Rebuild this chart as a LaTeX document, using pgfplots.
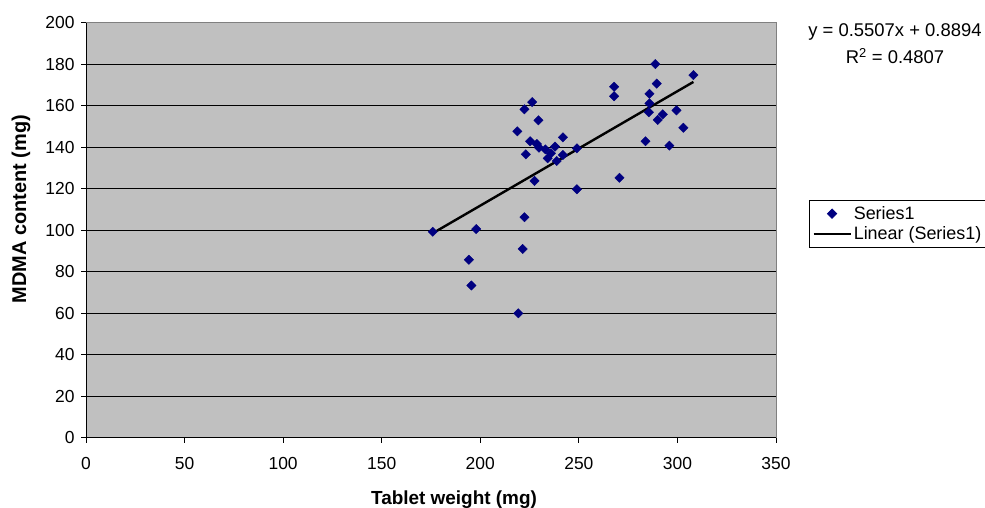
\documentclass[border=0pt]{standalone}
\usepackage{pgfplots}
\pgfplotsset{compat=1.18}
\usepackage{fontspec}
\setmainfont{Liberation Sans}
\definecolor{plotgray}{HTML}{C0C0C0}
\definecolor{navymark}{HTML}{000080}
\definecolor{bordergray}{HTML}{808080}
\pgfplotsset{
  mymarklegend/.style={legend image code/.code={\draw[mark repeat=2, mark phase=2, ##1] plot coordinates {(0bp,0bp) (18.5bp,0bp) (37bp,0bp)};}},
  mylinelegend/.style={legend image code/.code={\draw[##1] (0bp,0bp) -- (37bp,0bp);}},
}
\begin{document}
\begin{tikzpicture}[font=\fontsize{17}{20}\selectfont]
\useasboundingbox (0bp,0bp) rectangle (985bp,508bp);
\begin{axis}[
  at={(86bp,70.2bp)}, anchor=south west,
  scale only axis, width=690bp, height=415bp,
  xmin=0, xmax=350, ymin=0, ymax=200,
  xtick={0,50,...,350}, ytick={0,20,...,200},
  axis background/.style={fill=plotgray},
  axis x line=bottom, axis y line=left,
  axis line style={-, black, line width=1bp},
  tick align=outside, major tick length=5bp,
  tick style={black, line width=1bp},
  ymajorgrids, grid style={black, line width=0.8bp},
  ticklabel style={font=\fontsize{17.5}{20}\selectfont},
  /pgf/number format/assume math mode=true,
  xticklabel style={yshift=-11bp},
  yticklabel style={xshift=-3bp},
  clip=false,
  legend style={at={(axis description cs:1.0478,0.573)}, anchor=north west,
    draw=black, line width=0.8bp, fill=white, font=\fontsize{18}{21}\selectfont,
    inner xsep=3bp, inner ysep=4bp, row sep=2bp},
  legend cell align=left,
]
\addplot[only marks, mark=square*, mark size=3.3bp,
  mark options={rotate=45, fill=navymark, draw=navymark}, mymarklegend]
coordinates {
(175.9,99.3) (197.9,100.6) (194.2,85.8) (195.5,73.4) (219.3,60.0)
(222.4,106.3) (221.5,91.0) (227.5,123.8) (223.1,136.6) (218.8,147.7)
(222.4,158.3) (226.3,161.8) (229.5,153.0) (225.3,142.9) (228.7,141.6)
(229.8,139.8) (233.0,139.0) (237.9,140.3) (241.9,144.8) (235.8,137.1)
(234.2,134.7) (238.8,133.4) (241.9,136.3) (249.0,139.5) (249.0,119.8)
(267.9,169.2) (267.9,164.6) (270.6,125.3) (283.8,142.9) (285.5,156.9)
(285.8,161.2) (285.8,165.8) (288.8,180.1) (289.5,170.7) (290.0,153.2)
(292.6,155.9) (295.9,140.8) (299.5,157.8) (303.0,149.4) (308.1,174.8)
};
\addlegendentry{Series1}
\addplot[black, line width=2.4bp, no marks, mylinelegend]
coordinates {(175.9,98.6) (308.1,171.5)};
\addlegendentry{Linear (Series1)}
\draw[bordergray, line width=1bp] (rel axis cs:0,1) -- (rel axis cs:1,1) -- (rel axis cs:1,0);
\end{axis}
\node[font=\fontsize{18.5}{22}\selectfont] at (895bp,476bp) {y = 0.5507x + 0.8894};
\node[font=\fontsize{18.5}{22}\selectfont] at (895bp,452bp) {R\textsuperscript{2} = 0.4807};
\node[font=\fontsize{19}{22}\selectfont\bfseries] at (454bp,8bp) {Tablet weight (mg)};
\node[rotate=90, font=\fontsize{20}{23}\selectfont\bfseries] at (21bp,299bp) {MDMA content (mg)};
\end{tikzpicture}
\end{document}
